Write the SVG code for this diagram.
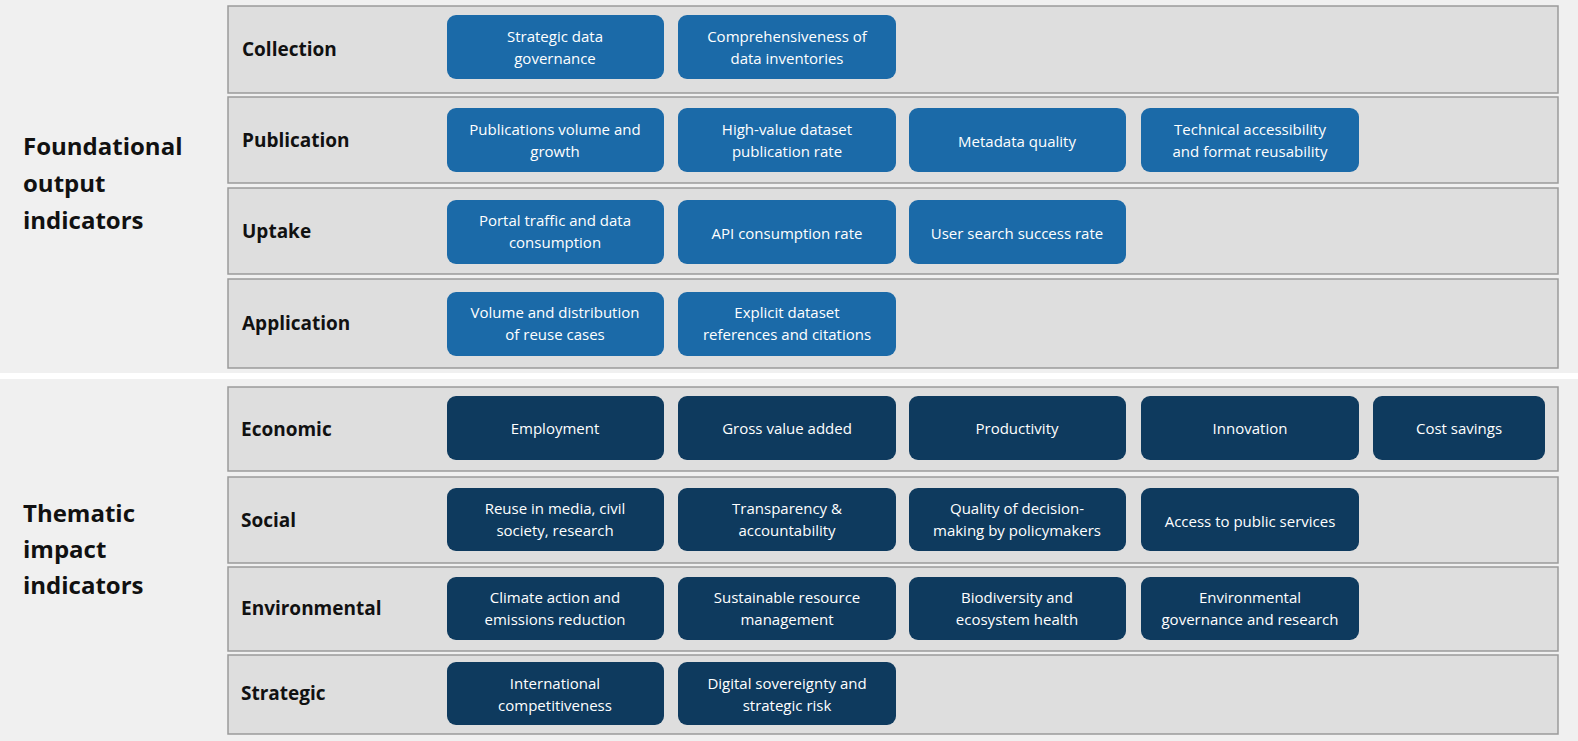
<svg xmlns="http://www.w3.org/2000/svg" width="1578" height="741" viewBox="0 0 1578 741">
<style>
.row{fill:#dedede;stroke:#9a9a9a;stroke-width:1.5}
.b{fill:#1b6aa8}
.d{fill:#0e3a5e}
.t{font-family:"Open Sans","Liberation Sans",sans-serif;font-size:15px;fill:#fff;text-anchor:middle}
.h{font-family:"Open Sans","Liberation Sans",sans-serif;font-size:19px;font-weight:bold;fill:#111}
.g{font-family:"Open Sans","Liberation Sans",sans-serif;font-size:24px;font-weight:bold;fill:#111}
</style>
<rect x="0" y="0" width="1578" height="741" fill="#ffffff"/>
<rect x="0" y="0" width="1578" height="373" fill="#f0f0f0"/>
<rect x="0" y="379" width="1578" height="362" fill="#f0f0f0"/>
<g id="groups">
<text class="g" x="23" y="155">Foundational</text>
<text class="g" x="23" y="192">output</text>
<text class="g" x="23" y="229">indicators</text>
<text class="g" x="23" y="522">Thematic</text>
<text class="g" x="23" y="558">impact</text>
<text class="g" x="23" y="594">indicators</text>
</g>
<g id="rows">
<rect class="row" x="228" y="6" width="1330" height="87"/>
<rect class="row" x="228" y="97" width="1330" height="86"/>
<rect class="row" x="228" y="188" width="1330" height="86"/>
<rect class="row" x="228" y="279" width="1330" height="89"/>
<rect class="row" x="228" y="387" width="1330" height="84"/>
<rect class="row" x="228" y="477" width="1330" height="86"/>
<rect class="row" x="228" y="567" width="1330" height="84"/>
<rect class="row" x="228" y="655" width="1330" height="79"/>
<text class="h" x="242" y="56">Collection</text>
<text class="h" x="242" y="147">Publication</text>
<text class="h" x="242" y="238">Uptake</text>
<text class="h" x="242" y="330">Application</text>
<text class="h" x="241" y="436">Economic</text>
<text class="h" x="241" y="527">Social</text>
<text class="h" x="241" y="615">Environmental</text>
<text class="h" x="241" y="700">Strategic</text>
</g>
<g id="n1"><rect class="b" x="447" y="15" width="217" height="64" rx="9"/><text class="t" x="555" y="42">Strategic data</text><text class="t" x="555" y="64">governance</text></g>
<g id="n2"><rect class="b" x="678" y="15" width="218" height="64" rx="9"/><text class="t" x="787" y="42">Comprehensiveness of</text><text class="t" x="787" y="64">data inventories</text></g>
<g id="n3"><rect class="b" x="447" y="108" width="217" height="64" rx="9"/><text class="t" x="555" y="135">Publications volume and</text><text class="t" x="555" y="157">growth</text></g>
<g id="n4"><rect class="b" x="678" y="108" width="218" height="64" rx="9"/><text class="t" x="787" y="135">High-value dataset</text><text class="t" x="787" y="157">publication rate</text></g>
<g id="n5"><rect class="b" x="909" y="108" width="217" height="64" rx="9"/><text class="t" x="1017" y="147">Metadata quality</text></g>
<g id="n6"><rect class="b" x="1141" y="108" width="218" height="64" rx="9"/><text class="t" x="1250" y="135">Technical accessibility</text><text class="t" x="1250" y="157">and format reusability</text></g>
<g id="n7"><rect class="b" x="447" y="200" width="217" height="64" rx="9"/><text class="t" x="555" y="226">Portal traffic and data</text><text class="t" x="555" y="248">consumption</text></g>
<g id="n8"><rect class="b" x="678" y="200" width="218" height="64" rx="9"/><text class="t" x="787" y="239">API consumption rate</text></g>
<g id="n9"><rect class="b" x="909" y="200" width="217" height="64" rx="9"/><text class="t" x="1017" y="239">User search success rate</text></g>
<g id="n10"><rect class="b" x="447" y="292" width="217" height="64" rx="9"/><text class="t" x="555" y="318">Volume and distribution</text><text class="t" x="555" y="340">of reuse cases</text></g>
<g id="n11"><rect class="b" x="678" y="292" width="218" height="64" rx="9"/><text class="t" x="787" y="318">Explicit dataset</text><text class="t" x="787" y="340">references and citations</text></g>
<g id="n12"><rect class="d" x="447" y="396" width="217" height="64" rx="9"/><text class="t" x="555" y="434">Employment</text></g>
<g id="n13"><rect class="d" x="678" y="396" width="218" height="64" rx="9"/><text class="t" x="787" y="434">Gross value added</text></g>
<g id="n14"><rect class="d" x="909" y="396" width="217" height="64" rx="9"/><text class="t" x="1017" y="434">Productivity</text></g>
<g id="n15"><rect class="d" x="1141" y="396" width="218" height="64" rx="9"/><text class="t" x="1250" y="434">Innovation</text></g>
<g id="n16"><rect class="d" x="1373" y="396" width="172" height="64" rx="9"/><text class="t" x="1459" y="434">Cost savings</text></g>
<g id="n17"><rect class="d" x="447" y="488" width="217" height="63" rx="9"/><text class="t" x="555" y="514">Reuse in media, civil</text><text class="t" x="555" y="536">society, research</text></g>
<g id="n18"><rect class="d" x="678" y="488" width="218" height="63" rx="9"/><text class="t" x="787" y="514">Transparency &amp;</text><text class="t" x="787" y="536">accountability</text></g>
<g id="n19"><rect class="d" x="909" y="488" width="217" height="63" rx="9"/><text class="t" x="1017" y="514">Quality of decision-</text><text class="t" x="1017" y="536">making by policymakers</text></g>
<g id="n20"><rect class="d" x="1141" y="488" width="218" height="63" rx="9"/><text class="t" x="1250" y="527">Access to public services</text></g>
<g id="n21"><rect class="d" x="447" y="577" width="217" height="63" rx="9"/><text class="t" x="555" y="603">Climate action and</text><text class="t" x="555" y="625">emissions reduction</text></g>
<g id="n22"><rect class="d" x="678" y="577" width="218" height="63" rx="9"/><text class="t" x="787" y="603">Sustainable resource</text><text class="t" x="787" y="625">management</text></g>
<g id="n23"><rect class="d" x="909" y="577" width="217" height="63" rx="9"/><text class="t" x="1017" y="603">Biodiversity and</text><text class="t" x="1017" y="625">ecosystem health</text></g>
<g id="n24"><rect class="d" x="1141" y="577" width="218" height="63" rx="9"/><text class="t" x="1250" y="603">Environmental</text><text class="t" x="1250" y="625">governance and research</text></g>
<g id="n25"><rect class="d" x="447" y="662" width="217" height="63" rx="9"/><text class="t" x="555" y="689">International</text><text class="t" x="555" y="711">competitiveness</text></g>
<g id="n26"><rect class="d" x="678" y="662" width="218" height="63" rx="9"/><text class="t" x="787" y="689">Digital sovereignty and</text><text class="t" x="787" y="711">strategic risk</text></g>
<g id="connectors"></g>
</svg>
